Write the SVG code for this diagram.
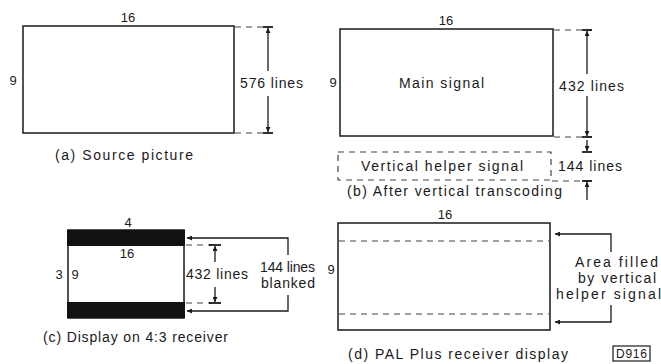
<svg xmlns="http://www.w3.org/2000/svg" width="661" height="364" viewBox="0 0 661 364">
<defs>
<marker id="ah" viewBox="0 0 10 10" refX="10" refY="5" markerWidth="5" markerHeight="5" markerUnits="userSpaceOnUse" orient="auto"><path d="M0,0 L10,5 L0,10 z" fill="#1a1a1a"/></marker>
<marker id="ahw" viewBox="0 0 10 10" refX="10" refY="5" markerWidth="9" markerHeight="5" markerUnits="userSpaceOnUse" orient="auto"><path d="M0,0 L10,5 L0,10 z" fill="#1a1a1a"/></marker>
<style>
text{font-family:"Liberation Sans","DejaVu Sans",Arial,sans-serif;font-size:14px;fill:#1a1a1a}
.n{font-size:13px}
.box{fill:#fff;stroke:#1a1a1a;stroke-width:1.5}
.dash{stroke:#444;stroke-width:1.2;stroke-dasharray:6 5;fill:none}
.dim{stroke:#1a1a1a;stroke-width:1.3;fill:none}
.bar{stroke:#1a1a1a;stroke-width:1.8}
.band{fill:#111}
</style>
</defs>
<rect width="661" height="364" fill="#fff"/>

<g id="panel-a">
<rect class="box" x="23" y="26" width="211" height="107"/>
<text class="n" x="128" y="22" text-anchor="middle">16</text>
<text class="n" x="13" y="85" text-anchor="middle">9</text>
<text x="240" y="88" textLength="63" lengthAdjust="spacing">576 lines</text>
<text x="55" y="160" textLength="138" lengthAdjust="spacing">(a) Source picture</text>
</g>

<g id="panel-b">
<rect class="box" x="340" y="29" width="213" height="107"/>
<text class="n" x="446" y="25" text-anchor="middle">16</text>
<text class="n" x="333" y="87" text-anchor="middle">9</text>
<text x="399" y="88" textLength="85" lengthAdjust="spacing">Main signal</text>
<text x="559" y="91" textLength="65" lengthAdjust="spacing">432 lines</text>
</g>

<g id="helper-b">
<rect class="dash" x="338" y="152" width="213" height="28"/>
<text x="361" y="171" textLength="162" lengthAdjust="spacing">Vertical helper signal</text>
<text x="558" y="171" textLength="64" lengthAdjust="spacing">144 lines</text>
<text x="347" y="196" textLength="215" lengthAdjust="spacing">(b) After vertical transcoding</text>
</g>

<g id="panel-c">
<rect class="box" x="68" y="230" width="116" height="88" stroke-width="1"/>
<rect class="band" x="67" y="230" width="118" height="16"/>
<rect class="band" x="67" y="302" width="118" height="16"/>
<text class="n" x="128" y="227" text-anchor="middle">4</text>
<text class="n" x="127" y="258" text-anchor="middle">16</text>
<text class="n" x="59" y="279" text-anchor="middle">3</text>
<text class="n" x="75" y="279" text-anchor="middle">9</text>
<text x="186" y="279" textLength="62" lengthAdjust="spacing">432 lines</text>
<text x="260" y="272" textLength="55" lengthAdjust="spacing">144 lines</text>
<text x="261" y="288" textLength="54" lengthAdjust="spacing">blanked</text>
<text x="43" y="342" textLength="185" lengthAdjust="spacing">(c) Display on 4:3 receiver</text>
</g>

<g id="panel-d">
<rect class="box" x="338" y="223" width="212" height="107"/>
<line class="dash" x1="339" y1="241" x2="549" y2="241"/>
<line class="dash" x1="339" y1="314" x2="549" y2="314"/>
<text class="n" x="445" y="219" text-anchor="middle">16</text>
<text class="n" x="331" y="274" text-anchor="middle">9</text>
<text x="575" y="267" textLength="83" lengthAdjust="spacing">Area filled</text>
<text x="578" y="283" textLength="78" lengthAdjust="spacing">by vertical</text>
<text x="556" y="299" textLength="105" lengthAdjust="spacing">helper signal</text>
<text x="348" y="359" textLength="220" lengthAdjust="spacing">(d) PAL Plus receiver display</text>
</g>

<g id="label-d916">
<rect x="613" y="346" width="37" height="15" fill="none" stroke="#1a1a1a" stroke-width="1.2"/>
<text x="616" y="358" textLength="31" lengthAdjust="spacing" style="font-size:12px">D916</text>
</g>

<g id="connectors">
<line class="dash" x1="235" y1="27" x2="270" y2="27"/>
<line class="dash" x1="235" y1="133" x2="270" y2="133"/>
<line class="bar" x1="263" y1="27" x2="273" y2="27"/>
<line class="bar" x1="263" y1="133" x2="273" y2="133"/>
<path class="dim" d="M268,71 L268,28" marker-end="url(#ahw)"/>
<path class="dim" d="M268,96 L268,132" marker-end="url(#ahw)"/>
<line class="dash" x1="554" y1="30" x2="592" y2="30"/>
<line class="dash" x1="554" y1="137" x2="592" y2="137"/>
<line class="dash" x1="552" y1="181" x2="592" y2="181"/>
<line class="bar" x1="582" y1="30" x2="592" y2="30"/>
<line class="bar" x1="582" y1="137" x2="592" y2="137"/>
<path class="dim" d="M587,74 L587,31" marker-end="url(#ahw)"/>
<path class="dim" d="M587,96 L587,136" marker-end="url(#ahw)"/>
<line class="bar" x1="582" y1="152" x2="592" y2="152"/>
<path class="dim" d="M587,140 L587,151" marker-end="url(#ahw)"/>
<line class="bar" x1="582" y1="181" x2="592" y2="181"/>
<path class="dim" d="M587,200 L587,182" marker-end="url(#ahw)"/>
<line class="dash" x1="186" y1="245" x2="212" y2="245"/>
<line class="dash" x1="186" y1="303" x2="212" y2="303"/>
<line class="bar" x1="209" y1="245" x2="221" y2="245"/>
<line class="bar" x1="209" y1="303" x2="221" y2="303"/>
<path class="dim" d="M215,262 L215,246" marker-end="url(#ahw)"/>
<path class="dim" d="M215,287 L215,302" marker-end="url(#ahw)"/>
<path class="dim" d="M288,255 L288,238 L187,238" marker-end="url(#ah)"/>
<path class="dim" d="M288,295 L288,311 L187,311" marker-end="url(#ah)"/>
<path class="dim" d="M611,252 L611,234 L555,234" marker-end="url(#ah)"/>
<path class="dim" d="M611,305 L611,322 L555,322" marker-end="url(#ah)"/>
</g>
</svg>
